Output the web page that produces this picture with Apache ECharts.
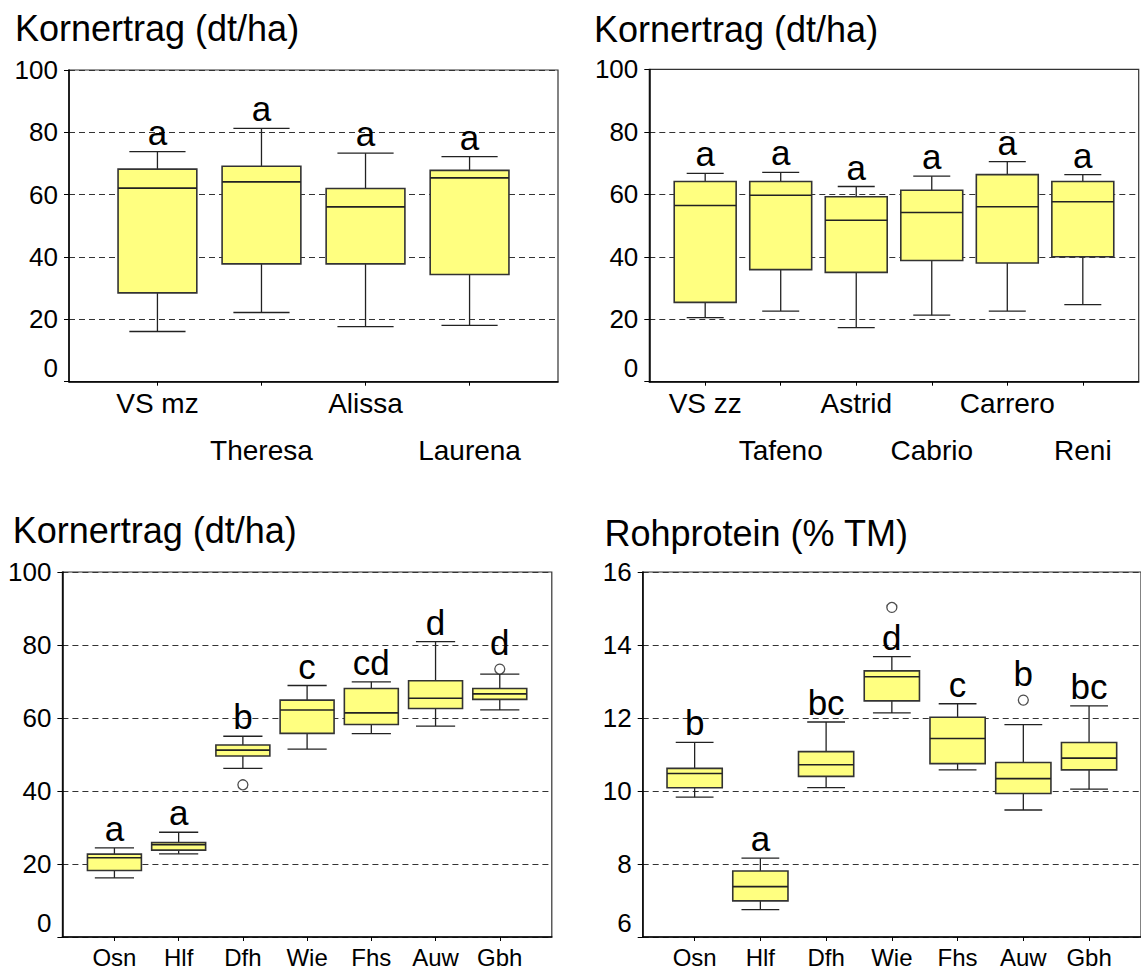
<!DOCTYPE html>
<html><head><meta charset="utf-8">
<script src="https://cdn.jsdelivr.net/npm/echarts@6/dist/echarts.min.js"></script>
<style>html,body{margin:0;padding:0;background:#fff}#c{width:1141px;height:969px}</style>
</head><body><div id="c"></div>
<script>
// ---------- Panel A: Kornertrag ----------
const titleA = 'Kornertrag (dt/ha)';
const catsA = ['VS mz', 'Theresa', 'Alissa', 'Laurena'];
const minA = [16.1, 22.2, 17.7, 18.1];
const q1A  = [28.5, 37.8, 37.8, 34.4];
const medA = [62.1, 64.1, 56.1, 65.4];
const q3A  = [68.2, 69.1, 62.0, 67.8];
const maxA = [73.8, 81.3, 73.3, 72.2];
const outA = [];
const letA = ['a', 'a', 'a', 'a'];
const ticksA = [0, 20, 40, 60, 80, 100];

// ---------- Panel B ----------
const titleB = 'Kornertrag (dt/ha)';
const catsB = ['VS zz', 'Tafeno', 'Astrid', 'Cabrio', 'Carrero', 'Reni'];
const minB = [20.5, 22.6, 17.3, 21.3, 22.6, 24.7];
const q1B  = [25.4, 35.9, 35.0, 38.8, 38.0, 40.0];
const medB = [56.4, 59.7, 51.7, 54.2, 56.0, 57.6];
const q3B  = [64.1, 64.1, 59.2, 61.3, 66.3, 64.1];
const maxB = [66.7, 67.0, 62.5, 65.8, 70.5, 66.3];
const outB = [];
const letB = ['a', 'a', 'a', 'a', 'a', 'a'];
const ticksB = [0, 20, 40, 60, 80, 100];

// ---------- Panel C ----------
const titleC = 'Kornertrag (dt/ha)';
const catsC = ['Osn', 'Hlf', 'Dfh', 'Wie', 'Fhs', 'Auw', 'Gbh'];
const minC = [16.2, 22.8, 46.2, 51.5, 55.7, 57.8, 62.2];
const q1C  = [18.2, 23.8, 49.6, 55.8, 58.2, 62.6, 65.1];
const medC = [21.7, 25.3, 51.2, 62.2, 61.4, 65.4, 66.6];
const q3C  = [22.7, 25.9, 52.6, 64.9, 68.1, 70.2, 68.1];
const maxC = [24.4, 28.7, 55.0, 68.9, 69.9, 80.9, 72.0];
const outC = [[2, 41.7], [6, 73.4]];
const letC = ['a', 'a', 'b', 'c', 'cd', 'd', 'd'];
const ticksC = [0, 20, 40, 60, 80, 100];

// ---------- Panel D ----------
const titleD = 'Rohprotein (% TM)';
const catsD = ['Osn', 'Hlf', 'Dfh', 'Wie', 'Fhs', 'Auw', 'Gbh'];
const minD = [9.83, 6.75, 10.09, 12.14, 10.58, 9.48, 10.05];
const q1D  = [10.09, 6.99, 10.40, 12.47, 10.75, 9.93, 10.58];
const medD = [10.48, 7.38, 10.72, 13.13, 11.44, 10.34, 10.90];
const q3D  = [10.62, 7.81, 11.08, 13.29, 12.02, 10.78, 11.33];
const maxD = [11.33, 8.16, 11.89, 13.68, 12.39, 11.82, 12.33];
const outD = [[3, 15.03], [5, 12.49]];
const letD = ['b', 'a', 'bc', 'd', 'c', 'b', 'bc'];
const ticksD = [6, 8, 10, 12, 14, 16];

const FONT = '"Liberation Sans", Arial, Helvetica, sans-serif';

// layout / style per panel (not data)
const panels = [
  {title: titleA, cats: catsA, mins: minA, q1: q1A, med: medA, q3: q3A, maxs: maxA, out: outA, lets: letA, ticks: ticksA,
   left: 69, top: 70, width: 489, height: 311.7, xMin: -0.85, xMax: 3.85, boxW: 0.757, capW: 0.54,
   twoRows: true, labelSize: 28, tLeft: 15, tTop: 10},
  {title: titleB, cats: catsB, mins: minB, q1: q1B, med: medB, q3: q3B, maxs: maxB, out: outB, lets: letB, ticks: ticksB,
   left: 649.3, top: 69.4, width: 489.4, height: 312.3, xMin: -0.74, xMax: 5.74, boxW: 0.82, capW: 0.49,
   twoRows: true, labelSize: 28, tLeft: 594, tTop: 11},
  {title: titleC, cats: catsC, mins: minC, q1: q1C, med: medC, q3: q3C, maxs: maxC, out: outC, lets: letC, ticks: ticksC,
   left: 62.4, top: 572, width: 489.4, height: 365.7, xMin: -0.81, xMax: 6.81, boxW: 0.84, capW: 0.61,
   twoRows: false, labelSize: 24, tLeft: 12.7, tTop: 512.5},
  {title: titleD, cats: catsD, mins: minD, q1: q1D, med: medD, q3: q3D, maxs: maxD, out: outD, lets: letD, ticks: ticksD,
   left: 642.7, top: 572, width: 503.3, height: 365.3, xMin: -0.79, xMax: 6.79, boxW: 0.84, capW: 0.575,
   twoRows: false, labelSize: 24, tLeft: 604.5, tTop: 515.5}
];

function makeRender(P) {
  const yLo = P.ticks[0], yHi = P.ticks[P.ticks.length - 1];
  return function (params, api) {
    const i = api.value(0);
    const vMin = api.value(1), vQ1 = api.value(2), vMed = api.value(3), vQ3 = api.value(4), vMax = api.value(5);
    const x = api.coord([i, vMed])[0];
    const y = v => api.coord([i, v])[1];
    const hw = api.size([P.boxW, 0])[0] / 2;
    const cw = api.size([P.capW, 0])[0] / 2;
    const ln = (x1, y1, x2, y2, w) => ({type: 'line', shape: {x1, y1, x2, y2}, style: {stroke: '#222', lineWidth: w || 1.3}});
    let anchorY = y(vMax) - 2;
    P.out.forEach(o => {
      if (o[0] === i && o[1] > vMax && (o[1] - vMax) / (yHi - yLo) < 0.1) anchorY = Math.min(anchorY, y(o[1]) - 9);
    });
    return {
      type: 'group',
      children: [
        ln(x, y(vQ3), x, y(vMax)),
        ln(x, y(vQ1), x, y(vMin)),
        ln(x - cw, y(vMax), x + cw, y(vMax)),
        ln(x - cw, y(vMin), x + cw, y(vMin)),
        {type: 'rect', shape: {x: x - hw, y: y(vQ3), width: 2 * hw, height: y(vQ1) - y(vQ3)},
         style: {fill: '#ffff80', stroke: '#333', lineWidth: 1.6}},
        ln(x - hw, y(vMed), x + hw, y(vMed), 1.6),
        {type: 'text', x: x, y: anchorY,
         style: {text: P.lets[i], fontSize: 35, fontFamily: FONT, fill: '#000', align: 'center', verticalAlign: 'bottom', lineHeight: 35}}
      ]
    };
  };
}

const option = {
  animation: false,
  backgroundColor: '#fff',
  title: [], grid: [], xAxis: [], yAxis: [], series: []
};

panels.forEach((P, k) => {
  const idx = P.cats.map((_, i) => i);
  const rowA = P.twoRows ? idx.filter(i => i % 2 === 0) : idx;
  const rowB = idx.filter(i => i % 2 === 1);
  const yMinV = P.ticks[0];
  option.title.push({
    text: P.title, left: P.tLeft, top: P.tTop, padding: 0,
    textStyle: {fontFamily: FONT, fontWeight: 'normal', fontSize: 36, color: '#000', lineHeight: 36}
  });
  option.grid.push({
    left: P.left, top: P.top, width: P.width, height: P.height,
    show: true, borderColor: '#333', borderWidth: 1.2, backgroundColor: 'transparent', containLabel: false
  });
  const mainX = option.xAxis.length;
  option.xAxis.push({
    gridIndex: k, type: 'value', position: 'bottom', min: P.xMin, max: P.xMax,
    axisLine: {show: true, onZero: false, lineStyle: {color: '#000', width: 1.5}},
    axisTick: {show: true, customValues: idx, length: 4, lineStyle: {color: '#000', width: 1}},
    axisLabel: {
      show: true, customValues: rowA, showMinLabel: true, showMaxLabel: true, hideOverlap: false,
      margin: 8, fontFamily: FONT, fontSize: P.labelSize, color: '#000', lineHeight: P.labelSize,
      formatter: v => P.cats[Math.round(v)] || ''
    },
    splitLine: {show: false}
  });
  if (P.twoRows) {
    option.xAxis.push({
      gridIndex: k, type: 'value', position: 'bottom', offset: 0, min: P.xMin, max: P.xMax,
      axisLine: {show: false, onZero: false},
      axisTick: {show: false},
      axisLabel: {
        show: true, customValues: rowB, showMinLabel: true, showMaxLabel: true, hideOverlap: false,
        margin: 55, fontFamily: FONT, fontSize: P.labelSize, color: '#000', lineHeight: P.labelSize,
        formatter: v => P.cats[Math.round(v)] || ''
      },
      splitLine: {show: false}
    });
  }
  option.yAxis.push({
    gridIndex: k, type: 'value', min: P.ticks[0], max: P.ticks[P.ticks.length - 1],
    interval: P.ticks[1] - P.ticks[0],
    axisLine: {show: true, onZero: false, lineStyle: {color: '#000', width: 1.5}},
    axisTick: {show: true, length: 5, lineStyle: {color: '#000', width: 1}},
    axisLabel: {
      fontFamily: FONT, fontSize: 26, color: '#000', margin: 11,
      showMinLabel: true, showMaxLabel: true,
      formatter: v => (Math.abs(v - yMinV) < 1e-9 ? '{low|' + v + '}' : String(v)),
      rich: {low: {fontFamily: FONT, fontSize: 26, color: '#000', padding: [0, 0, 28, 0]}}
    },
    splitLine: {show: true, lineStyle: {color: '#333', width: 1.1, type: [6, 4]}}
  });
  option.series.push({
    type: 'custom', xAxisIndex: mainX, yAxisIndex: k,
    renderItem: makeRender(P),
    encode: {x: 0, y: [1, 2, 3, 4, 5]},
    data: idx.map(i => [i, P.mins[i], P.q1[i], P.med[i], P.q3[i], P.maxs[i]]),
    z: 3
  });
  if (P.out.length) {
    option.series.push({
      type: 'scatter', xAxisIndex: mainX, yAxisIndex: k,
      symbol: 'circle', symbolSize: 10,
      itemStyle: {color: '#fff', borderColor: '#222', borderWidth: 1.3},
      data: P.out, z: 4
    });
  }
});

const chart = echarts.init(document.getElementById('c'), null, {renderer: 'svg'});
chart.setOption(option);
</script></body></html>
